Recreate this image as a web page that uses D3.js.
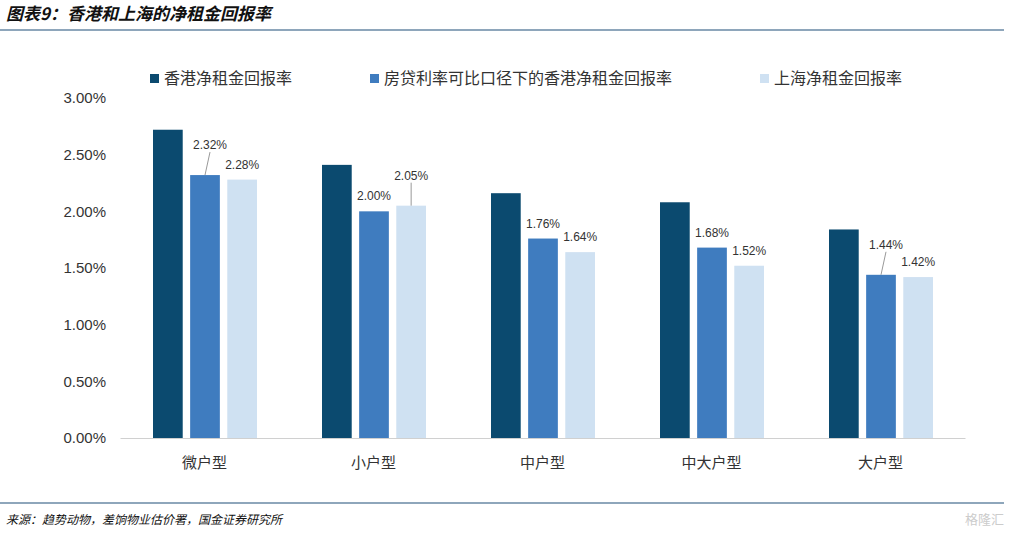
<!DOCTYPE html>
<html><head><meta charset="utf-8">
<script src="https://cdn.jsdelivr.net/npm/d3@7"></script>
<style>
body{margin:0;background:#fff;font-family:"Noto Sans CJK SC","Noto Sans",sans-serif}
</style></head>
<body><svg id="chart" width="1014" height="534"></svg>
<script>
// chart data
const categories = ['微户型', '小户型', '中户型', '中大户型', '大户型'];
const seriesNames = ['香港净租金回报率', '房贷利率可比口径下的香港净租金回报率', '上海净租金回报率'];
const hkYield = [2.72, 2.41, 2.16, 2.08, 1.84];
const hkAdjYield = [2.32, 2.00, 1.76, 1.68, 1.44];
const shYield = [2.28, 2.05, 1.64, 1.52, 1.42];
const yTicks = [0, 0.5, 1, 1.5, 2, 2.5, 3];

const colors = ['#0B4A6F', '#3F7CBF', '#CFE1F2'];
// labels that sit higher with a leader line (series index, category index)
const leader = [[1, 0], [2, 1], [1, 4]];

const svg = d3.select('#chart');

// title and rules
svg.append('text').attr('x', 6).attr('y', 20)
  .attr('font-size', 17).attr('font-weight', 'bold').attr('font-style', 'italic')
  .attr('fill', '#111').text('图表9：香港和上海的净租金回报率');
svg.append('line').attr('x1', 0).attr('x2', 1004).attr('y1', 30).attr('y2', 30)
  .attr('stroke', '#1F4E79').attr('stroke-width', 1.2);
svg.append('line').attr('x1', 0).attr('x2', 1004).attr('y1', 503).attr('y2', 503)
  .attr('stroke', '#1F4E79').attr('stroke-width', 1.2);
svg.append('text').attr('x', 6).attr('y', 524)
  .attr('font-size', 12).attr('font-style', 'italic').attr('fill', '#111')
  .text('来源：趋势动物，差饷物业估价署，国金证券研究所');
svg.append('text').attr('x', 1004).attr('y', 524).attr('text-anchor', 'end')
  .attr('font-size', 13).attr('fill', '#ccc').text('格隆汇');

const x = d3.scaleBand().domain(categories).range([120, 965]);
const xs = d3.scaleBand().domain(d3.range(3)).range([0, 104]).paddingInner(0.2);
const y = d3.scaleLinear().domain([0, 3]).range([438, 98]);

// y axis
const ya = svg.append('g').attr('transform', 'translate(120,0)')
  .call(d3.axisLeft(y).tickValues(yTicks).tickFormat(d => d.toFixed(2) + '%').tickSize(0).tickPadding(14));
ya.select('.domain').remove();
ya.selectAll('text').attr('font-size', 15).attr('fill', '#333').attr('font-family', 'Liberation Sans, Arial, sans-serif');

// x axis
const xa = svg.append('g').attr('transform', 'translate(0,438)')
  .call(d3.axisBottom(x).tickSize(0).tickPadding(19));
xa.select('.domain').attr('stroke', '#d0d0d0');
xa.selectAll('text').attr('font-size', 15).attr('fill', '#333').attr('font-family', 'Noto Sans CJK SC');

const series = [hkYield, hkAdjYield, shYield];
series.forEach((vals, s) => {
  const g = svg.append('g');
  g.selectAll('rect').data(vals).join('rect')
    .attr('x', (d, i) => x(categories[i]) + 33 + xs(s))
    .attr('y', d => y(d))
    .attr('width', xs.bandwidth())
    .attr('height', d => y(0) - y(d))
    .attr('fill', colors[s]);
  if (s === 0) return;
  vals.forEach((d, i) => {
    const cx = x(categories[i]) + 33 + xs(s) + xs.bandwidth() / 2;
    const isLead = leader.some(p => p[0] === s && p[1] === i);
    const ly = y(d) - (isLead ? 26 : 11);
    if (isLead) {
      svg.append('line').attr('x1', cx).attr('y1', y(d)).attr('x2', cx + (s === 1 ? 5 : 0)).attr('y2', ly + 3)
        .attr('stroke', '#999').attr('stroke-width', 1);
    }
    svg.append('text').attr('x', cx + (isLead && s === 1 ? 5 : 0)).attr('y', ly)
      .attr('text-anchor', 'middle').attr('font-size', 12).attr('fill', '#333')
      .attr('font-family', 'Liberation Sans, Arial, sans-serif')
      .text(d.toFixed(2) + '%');
  });
});

// legend
const legX = [150, 370, 760];
seriesNames.forEach((n, i) => {
  svg.append('rect').attr('x', legX[i]).attr('y', 74).attr('width', 9).attr('height', 9).attr('fill', colors[i]);
  svg.append('text').attr('x', legX[i] + 14).attr('y', 84).attr('font-size', 16).attr('fill', '#333').text(n);
});
</script></body></html>
